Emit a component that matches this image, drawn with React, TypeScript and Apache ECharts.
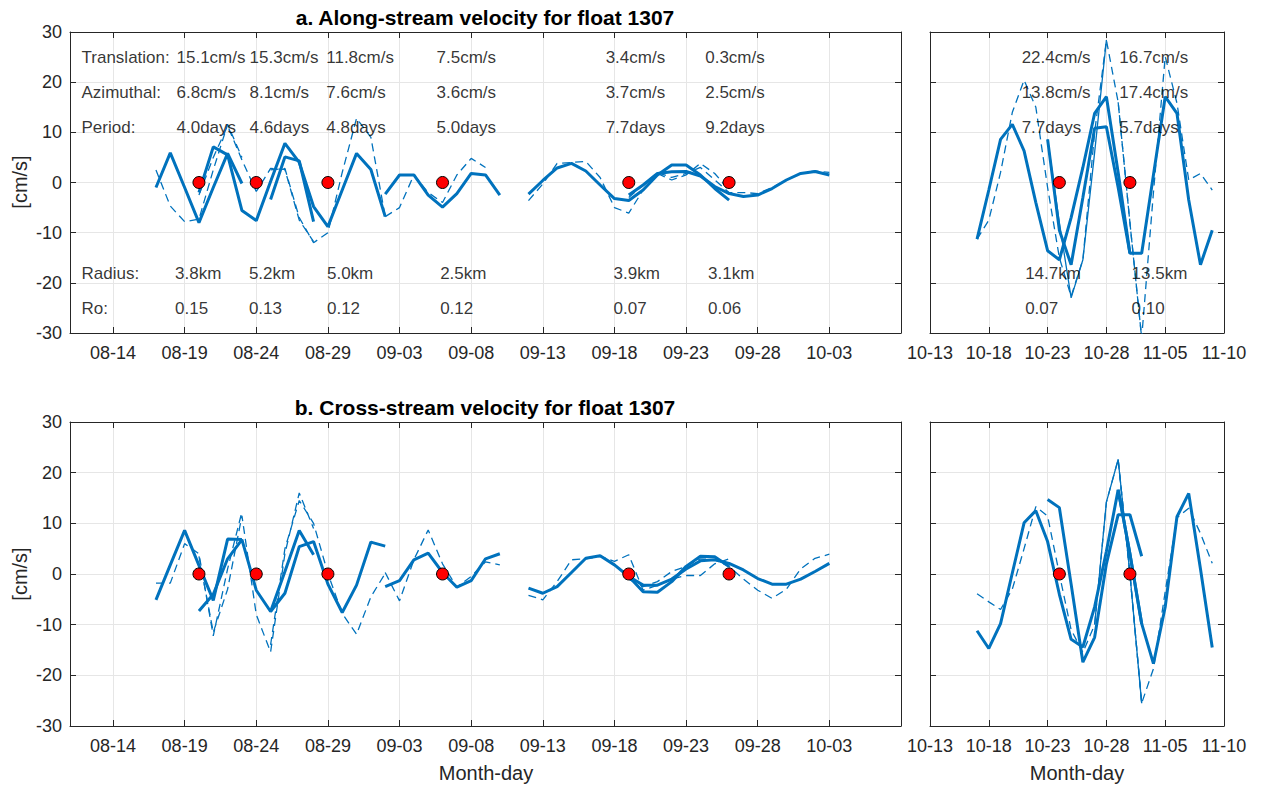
import React, { useEffect, useRef } from "react";
import * as echarts from "echarts";

// x values are days counted from 08-01 (08-01 = 0)
const leftTicks = [13, 18, 23, 28, 33, 38, 43, 48, 53, 58, 63];
const leftTickLabels = ["08-14", "08-19", "08-24", "08-29", "09-03", "09-08", "09-13", "09-18", "09-23", "09-28", "10-03"];
const rightTicks = [73, 78, 83, 88, 93, 98];
const rightTickLabels = ["10-13", "10-18", "10-23", "10-28", "11-05", "11-10"];
const leftRange = [10, 68];
const rightRange = [73, 98];

// eddy centre times (red dots, at 0 cm/s)
const eddyDaysLeft = [19, 23, 28, 36, 49, 56];
const eddyDaysRight = [84, 90];

// annotation texts
const rowNames = ["Translation:", "Azimuthal:", "Period:", "Radius:", "Ro:"];
const rowLevels = [25, 18, 11, -18.2, -25.2];
const translation = ["15.1cm/s", "15.3cm/s", "11.8cm/s", "7.5cm/s", "3.4cm/s", "0.3cm/s", "22.4cm/s", "16.7cm/s"];
const azimuthal = ["6.8cm/s", "8.1cm/s", "7.6cm/s", "3.6cm/s", "3.7cm/s", "2.5cm/s", "13.8cm/s", "17.4cm/s"];
const period = ["4.0days", "4.6days", "4.8days", "5.0days", "7.7days", "9.2days", "7.7days", "5.7days"];
const radius = ["3.8km", "5.2km", "5.0km", "2.5km", "3.9km", "3.1km", "14.7km", "13.5km"];
const rossby = ["0.15", "0.13", "0.12", "0.12", "0.07", "0.06", "0.07", "0.10"];
// text anchor days (upper three rows / lower two rows)
const textDayUpper = [17.4, 22.5, 27.85, 35.55, 47.35, 54.3, 80.75, 89.05];
const textDayLower = [17.3, 22.45, 27.9, 35.8, 47.9, 54.5, 81.05, 90.1];
const rowNameDay = 10.77;

// ---- a. along-stream: thick solid (observed), dashed, thin solid
const aThick1 = { from: 16, v: [-1.0, 5.9, -1.0, -8.0, -1.0, 5.8, -0.2] };
const aThick2 = { from: 19, v: [-2.0, 7.1, 5.5, -5.6, -7.6, 0.2, 7.8, 4.0, -4.8, -8.8, -1.5, 5.8, 2.6, -6.8] };
const aThick3 = { from: 24, v: [-3.4, 5.1, 4.3, -7.8] };
const aThick4 = { from: 32, v: [-2.3, 1.5, 1.5, -2.5, -4.9, -2.2, 1.8, 1.5, -2.5] };
const aThick5 = { from: 42, v: [-2.3, 0.4, 2.9, 3.8, 2.3, -0.5, -3.2, -3.6, -1.5, 1.5, 3.5, 3.5, 1.5, -1.2, -3.5] };
const aThick6 = { from: 49, v: [-2.5, -0.5, 1.8, 2.15, 2.2, 1.3, -0.8, -2.2, -2.8, -2.5, -1.2, 0.5, 1.8, 2.2, 1.5] };
const aThick7 = { from: 77, v: [-11.3, -1.5, 8.6, 11.6, 6.3, -4.0, -13.6, -15.4, -7.0, 3.0, 13.8, 17.1, 2.0, -14.1] };
const aThick8 = { from: 83, v: [8.6, -9.5, -16.4, -3.0, 10.8, 11.1, -1.0, -14.1, -14.1, 1.5, 17.1, 13.8, -3.5, -16.4, -9.5] };

const aDash1 = { from: 16, v: [2.5, -4.7, -7.8, -7.3, 2.5, 11.6, 5.0] };
const aDash2 = { from: 19, v: [-2.5, 5.0, 11.3, 4.5, -1.8, 2.8, 2.6, -7.5, -11.8] };
const aDash3 = { from: 24, v: [2.5, 2.8, -7.0, -12.0, -10.0, 2.0, 12.8, 9.0, -6.8] };
const aDash4 = { from: 32, v: [-6.8, -5.0, 1.5, -2.0, -4.0, 1.5, 4.8, 3.0] };
const aDash5 = { from: 42, v: [-3.6, -0.3, 3.8, 4.0, 4.2, 1.0, -5.0, -6.1, -1.5, 1.8, 0.5, 1.5, 3.8, 1.8, -1.5] };
const aDash6 = { from: 49, v: [-3.0, -0.5, 2.0, 1.0, 1.8, 3.0, 0.5, -2.0, -2.0, -2.2, -1.0, 0.5, 1.8, 2.3, 2.0] };
const aDash7 = { from: 77, v: [-11.3, -7.5, 2.0, 14.0, 20.4, 15.0, -1.0, -15.0, -22.7, -15.4, 10.0, 28.4, 16.0, -8.0, -31.0] };
const aDash8 = { from: 89, v: [16.0, -8.0, -31.0, -2.0, 25.1, 15.8, 0.5, 1.8, -1.5] };
const aThin7 = { from: 83, v: [8.6, -8.0, -23.0, -15.4, 6.0, 28.4] };

// ---- b. cross-stream
const bThick1 = { from: 16, v: [-5.1, 1.8, 8.6, 1.7, -5.2, 6.9, 6.8] };
const bThick2 = { from: 19, v: [-7.3, -4.0, 3.0, 6.8, -3.2, -7.4, -3.8, 5.4, 6.4, -2.0, -7.6, -2.2, 6.3, 5.5] };
const bThick3 = { from: 24, v: [-7.4, 0.5, 8.6, 3.8] };
const bThick4 = { from: 32, v: [-2.5, -1.3, 2.8, 4.1, 0.3, -2.6, -1.3, 3.0, 4.0] };
const bThick5 = { from: 42, v: [-2.8, -3.8, -2.5, 0.3, 3.1, 3.6, 1.8, -0.5, -3.5, -3.6, -1.5, 1.5, 3.5, 3.4, 1.5] };
const bThick6 = { from: 49, v: [-0.5, -2.2, -2.2, -1.0, 1.0, 2.6, 2.8, 2.1, 0.8, -0.9, -2.0, -2.0, -1.0, 0.5, 2.1] };
const bThick7 = { from: 77, v: [-11.2, -14.7, -9.8, 0.2, 10.1, 12.5, 6.4, -4.0, -12.9, -14.4, -6.5, 4.5, 16.6, 4.0, -9.8] };
const bThick8 = { from: 83, v: [14.7, 13.1, -2.0, -17.4, -12.5, 2.0, 11.7, 11.7, 3.5] };
const bThick9 = { from: 89, v: [16.6, 4.0, -9.8, -17.7, -6.5, 11.3, 15.9, 1.0, -14.5] };

const bDash1 = { from: 16, v: [-1.8, -1.8, 6.0, 4.0, -12.2, 1.0, 12.3] };
const bDash2 = { from: 19, v: [3.5, -11.5, -3.0, 11.5, -8.0, -15.4, 4.0, 16.0, 9.0] };
const bDash3 = { from: 24, v: [-14.0, 5.0, 14.5, 10.0, 0.1, -7.8, -11.9, -4.5, 0.1] };
const bDash4 = { from: 32, v: [0.3, -5.3, 2.8, 8.7, 2.0, -2.6, -0.5, 2.4, 1.8] };
const bDash5 = { from: 42, v: [-4.2, -5.1, -1.5, 2.8, 3.0, 3.5, 2.5, 3.8, -3.2, -2.2, -1.0, -0.3, -0.3, 2.0, 3.0] };
const bDash6 = { from: 49, v: [-1.0, -2.5, -1.5, 0.5, 1.5, 3.0, 2.8, 1.5, -1.0, -3.2, -4.8, -3.0, 1.0, 3.1, 3.9] };
const bDash7 = { from: 77, v: [-3.9, -5.5, -7.0, -3.0, 5.0, 13.3, 11.4, 0.0, -11.0, -15.5, -10.0, 14.2, 22.6, 0.0, -25.5] };
const bDash8 = { from: 89, v: [22.6, 0.0, -25.5, -18.7, -3.5, 11.1, 13.0, 8.0, 2.1] };
const bThin7 = { from: 87, v: [-10.0, 14.2, 22.6, 0.0, -25.5] };

const panelSegments = [
  { thick: [aThick1, aThick2, aThick3, aThick4, aThick5, aThick6], dash: [aDash1, aDash2, aDash3, aDash4, aDash5, aDash6], thin: [] },
  { thick: [aThick7, aThick8], dash: [aDash7, aDash8], thin: [aThin7] },
  { thick: [bThick1, bThick2, bThick3, bThick4, bThick5, bThick6], dash: [bDash1, bDash2, bDash3, bDash4, bDash5, bDash6], thin: [] },
  { thick: [bThick7, bThick8, bThick9], dash: [bDash7, bDash8], thin: [bThin7] },
];

const FONT = "'Liberation Sans', Arial, Helvetica, sans-serif";
const AX = "#262626";
const GRIDC = "#e6e6e6";
const BLUE = "#0072BD";

const grids = [
  { left: 70, top: 32, width: 831, height: 301 },
  { left: 930, top: 32, width: 294, height: 301 },
  { left: 70, top: 422, width: 831, height: 304 },
  { left: 930, top: 422, width: 294, height: 304 },
];

function makeXAxes(gridIndex: number, range: number[], ticks: number[], labels: string[]) {
  const base: any = {
    type: "value",
    gridIndex,
    min: range[0],
    max: range[1],
    axisLine: { show: true, onZero: false, lineStyle: { color: AX, width: 1 } },
    axisTick: { show: true, inside: true, length: 6, customValues: ticks, lineStyle: { color: AX, width: 1 } },
  };
  return [
    {
      ...base,
      position: "bottom",
      axisLabel: {
        show: true,
        customValues: ticks,
        formatter: (v: number) => {
          const i = ticks.indexOf(Math.round(v));
          return i >= 0 ? labels[i] : "";
        },
        color: AX,
        fontSize: 18,
        fontFamily: FONT,
        margin: 11,
      },
      splitLine: { show: true, lineStyle: { color: GRIDC, width: 1 } },
    },
    { ...base, position: "top", axisLabel: { show: false }, splitLine: { show: false } },
  ];
}

function makeYAxes(gridIndex: number, showLabels: boolean) {
  const base: any = {
    type: "value",
    gridIndex,
    min: -30,
    max: 30,
    interval: 10,
    axisLine: { show: true, onZero: false, lineStyle: { color: AX, width: 1 } },
    axisTick: { show: true, inside: true, length: 6, lineStyle: { color: AX, width: 1 } },
  };
  return [
    {
      ...base,
      position: "left",
      axisLabel: { show: showLabels, color: AX, fontSize: 18, fontFamily: FONT, margin: 8 },
      splitLine: { show: true, lineStyle: { color: GRIDC, width: 1 } },
    },
    { ...base, position: "right", axisLabel: { show: false }, splitLine: { show: false } },
  ];
}

function segSeries(s: { from: number; v: number[] }, kind: string, panel: number) {
  const lineStyle =
    kind === "thick"
      ? { width: 3, color: BLUE, type: "solid" }
      : kind === "dash"
      ? { width: 1.3, color: BLUE, type: [8, 5] }
      : { width: 1.3, color: BLUE, type: "solid" };
  return {
    type: "line",
    xAxisIndex: panel * 2,
    yAxisIndex: panel * 2,
    data: s.v.map((v, i) => [s.from + i, v]),
    showSymbol: false,
    symbol: "none",
    lineStyle,
    itemStyle: { color: BLUE },
    silent: true,
    z: kind === "thick" ? 3 : 2,
  };
}

function dotSeries(days: number[], panel: number) {
  return {
    type: "scatter",
    xAxisIndex: panel * 2,
    yAxisIndex: panel * 2,
    data: days.map((d) => [d, 0]),
    symbol: "circle",
    symbolSize: 12,
    itemStyle: { color: "#ff0000", borderColor: "#000", borderWidth: 1, opacity: 1 },
    silent: true,
    z: 5,
  };
}

function textSeries(items: any[], panel: number) {
  return {
    type: "scatter",
    xAxisIndex: panel * 2,
    yAxisIndex: panel * 2,
    data: items,
    symbolSize: 1,
    itemStyle: { color: "rgba(0,0,0,0)" },
    label: {
      show: true,
      position: "right",
      distance: 0,
      formatter: (p: any) => p.data[2],
      color: "#000",
      fontSize: 17,
      fontFamily: FONT,
    },
    silent: true,
    z: 10,
  };
}

export default function App() {
  const ref = useRef<HTMLDivElement>(null);
  useEffect(() => {
    if (!ref.current) return;
    const chart = echarts.init(ref.current, undefined, { renderer: "svg" });

    const xAxis = [
      ...makeXAxes(0, leftRange, leftTicks, leftTickLabels),
      ...makeXAxes(1, rightRange, rightTicks, rightTickLabels),
      ...makeXAxes(2, leftRange, leftTicks, leftTickLabels),
      ...makeXAxes(3, rightRange, rightTicks, rightTickLabels),
    ];
    const yAxis = [...makeYAxes(0, true), ...makeYAxes(1, false), ...makeYAxes(2, true), ...makeYAxes(3, false)];

    const series: any[] = [];
    panelSegments.forEach((p, panel) => {
      p.dash.forEach((s) => series.push(segSeries(s, "dash", panel)));
      p.thin.forEach((s) => series.push(segSeries(s, "thin", panel)));
      p.thick.forEach((s) => series.push(segSeries(s, "thick", panel)));
    });
    series.push(dotSeries(eddyDaysLeft, 0), dotSeries(eddyDaysRight, 1), dotSeries(eddyDaysLeft, 2), dotSeries(eddyDaysRight, 3));

    const rows = [translation, azimuthal, period, radius, rossby];
    const leftTexts: any[] = [];
    const rightTexts: any[] = [];
    rowNames.forEach((n, r) => leftTexts.push([rowNameDay, rowLevels[r], n]));
    rows.forEach((vals, r) => {
      vals.forEach((t, c) => {
        const day = r < 3 ? textDayUpper[c] : textDayLower[c];
        (c < 6 ? leftTexts : rightTexts).push([day, rowLevels[r], t]);
      });
    });
    series.push(textSeries(leftTexts, 0), textSeries(rightTexts, 1));

    const txt = (text: string, x: number, y: number, size: number, bold: boolean, rot = 0) => ({
      type: "text",
      x,
      y,
      rotation: rot,
      z: 100,
      style: {
        text,
        fontSize: size,
        fontWeight: bold ? "bold" : "normal",
        fontFamily: FONT,
        fill: bold ? "#000" : AX,
        align: "center",
        verticalAlign: "middle",
      },
    });

    chart.setOption({
      animation: false,
      backgroundColor: "#ffffff",
      grid: grids.map((g) => ({ ...g, containLabel: false })),
      xAxis,
      yAxis,
      series,
      graphic: [
        txt("a. Along-stream velocity for float 1307", 485, 17, 21, true),
        txt("b. Cross-stream velocity for float 1307", 485, 407, 21, true),
        txt("[cm/s]", 20, 182, 20, false, Math.PI / 2),
        txt("[cm/s]", 20, 574, 20, false, Math.PI / 2),
        txt("Month-day", 486, 773, 20, false),
        txt("Month-day", 1077, 773, 20, false),
      ],
    });
    return () => chart.dispose();
  }, []);

  return (
    <div
      ref={ref}
      style={{ position: "fixed", left: 0, top: 0, width: 1262, height: 786, background: "#fff" }}
    />
  );
}
